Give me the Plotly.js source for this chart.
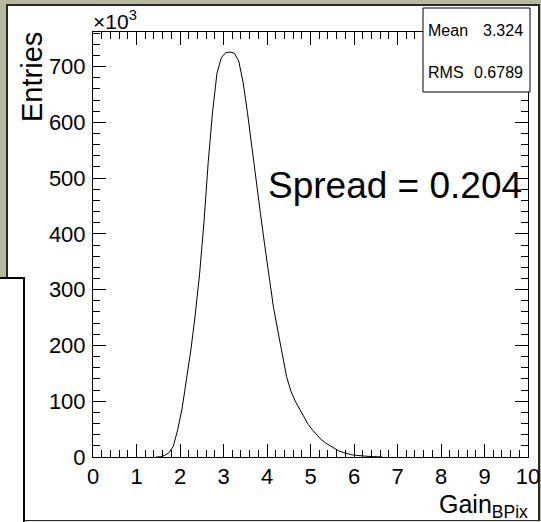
<!DOCTYPE html>
<html>
<head>
<meta charset="utf-8">
<script src="https://cdn.plot.ly/plotly-3.0.1.min.js"></script>
<style>html,body{margin:0;padding:0;background:#b9b8a1;}#chart{width:541px;height:522px;}</style>
</head>
<body>
<div id="chart"></div>
<script>
// Bin centers (Gain) and entries (in thousands)
const binCenters = [1.45,1.55,1.65,1.75,1.85,1.95,2.05,2.15,2.25,2.35,2.45,2.55,2.65,2.75,2.85,2.95,3.05,3.15,3.25,3.35,3.45,3.55,3.65,3.75,3.85,3.95,4.05,4.15,4.25,4.35,4.45,4.55,4.65,4.75,4.85,4.95,5.05,5.15,5.25,5.35,5.45,5.55,5.65,5.75,5.85,5.95,6.05,6.15,6.25,6.35,6.45,6.55,6.65];
const entriesK = [0,0.5,3,8,20,50,88,138,192,255,328,420,530,620,688,716,725,726,724,710,672,618,555,494,436,378,318,268,226,183,144,118,100,86,72,58,48,39,31,25,20,15,11,8,5.5,4,3,2,1.5,1,0.7,0.5,0];
const xTickVals = [0,1,2,3,4,5,6,7,8,9,10];
const yTickVals = [0,100,200,300,400,500,600,700];
const statsLabels = ["Mean", "RMS"];
const statsValues = ["3.324", "0.6789"];
const spreadText = "Spread = 0.204";

const W = 541, H = 522;
const L = 93, R = 528, T = 32, B = 457;
const px = v => (v - L) / (R - L);
const py = v => (B - v) / (B - T);
const FONT = "Liberation Sans, Arial, Helvetica, sans-serif";

const trace = {
  x: binCenters, y: entriesK, type: "scatter", mode: "lines",
  line: {shape: "linear", color: "#000", width: 1}, hoverinfo: "skip"
};

const axisCommon = {
  showline: true, linecolor: "#000", linewidth: 1, mirror: "ticks",
  ticks: "inside", ticklen: 13, tickwidth: 1, tickcolor: "#000",
  showgrid: false, zeroline: false,
  tickfont: {family: FONT, size: 22, color: "#000"}
};

const layout = {
  width: W, height: H,
  margin: {l: L, r: W - R, t: T, b: H - B, pad: 0},
  paper_bgcolor: "#b9b8a1",
  plot_bgcolor: "rgba(0,0,0,0)",
  showlegend: false,
  xaxis: Object.assign({}, axisCommon, {
    range: [0, 10], tickmode: "array", tickvals: xTickVals, ticklabelstandoff: 0,
    minor: {dtick: 0.2, ticks: "inside", ticklen: 7, tickcolor: "#000", tickwidth: 1, showgrid: false}
  }),
  yaxis: Object.assign({}, axisCommon, {
    range: [0, 762], tickmode: "array", tickvals: yTickVals, ticklabelstandoff: 2,
    minor: {dtick: 20, ticks: "inside", ticklen: 7, tickcolor: "#000", tickwidth: 1, showgrid: false}
  }),
  shapes: [
    {type: "rect", xref: "paper", yref: "paper", layer: "below",
     x0: px(7), x1: px(539), y0: py(5), y1: py(521),
     fillcolor: "#ffffff", line: {color: "#2a2a2a", width: 2}},
    {type: "rect", xref: "paper", yref: "paper", layer: "below",
     x0: px(-2), x1: px(24), y0: py(278), y1: py(524),
     fillcolor: "#ffffff", line: {color: "#000000", width: 2}},
    {type: "rect", xref: "paper", yref: "paper", layer: "below",
     x0: px(25), x1: px(545), y0: py(521), y1: py(524),
     fillcolor: "#e2e2e2", line: {width: 0}},
    {type: "rect", xref: "paper", yref: "paper", layer: "above",
     x0: px(423), x1: px(530), y0: py(8), y1: py(92),
     fillcolor: "#ffffff", line: {color: "#000", width: 1}}
  ],
  annotations: [
    {xref: "paper", yref: "paper", x: px(32), y: py(30), xanchor: "center", yanchor: "top",
     textangle: -90, text: "Entries", showarrow: false,
     font: {family: FONT, size: 29, color: "#000"}},
    {xref: "paper", yref: "paper", x: px(91), y: py(20), xanchor: "left", yanchor: "middle",
     text: "×10<sup>3</sup>", showarrow: false,
     font: {family: FONT, size: 21, color: "#000"}},
    {xref: "paper", yref: "paper", x: px(530), y: py(506), xanchor: "right", yanchor: "middle",
     text: "Gain<sub>BPix</sub>", showarrow: false,
     font: {family: FONT, size: 25, color: "#000"}},
    {xref: "paper", yref: "paper", x: px(266), y: py(186), xanchor: "left", yanchor: "middle",
     text: spreadText, showarrow: false,
     font: {family: FONT, size: 37, color: "#000"}},
    {xref: "paper", yref: "paper", x: px(426), y: py(31), xanchor: "left", yanchor: "middle",
     text: statsLabels[0], showarrow: false, font: {family: FONT, size: 16, color: "#000"}},
    {xref: "paper", yref: "paper", x: px(525), y: py(31), xanchor: "right", yanchor: "middle",
     text: statsValues[0], showarrow: false, font: {family: FONT, size: 16, color: "#000"}},
    {xref: "paper", yref: "paper", x: px(426), y: py(72), xanchor: "left", yanchor: "middle",
     text: statsLabels[1], showarrow: false, font: {family: FONT, size: 16, color: "#000"}},
    {xref: "paper", yref: "paper", x: px(525), y: py(72), xanchor: "right", yanchor: "middle",
     text: statsValues[1], showarrow: false, font: {family: FONT, size: 16, color: "#000"}}
  ]
};

Plotly.newPlot("chart", [trace], layout, {staticPlot: true, displayModeBar: false});
</script>
</body>
</html>
